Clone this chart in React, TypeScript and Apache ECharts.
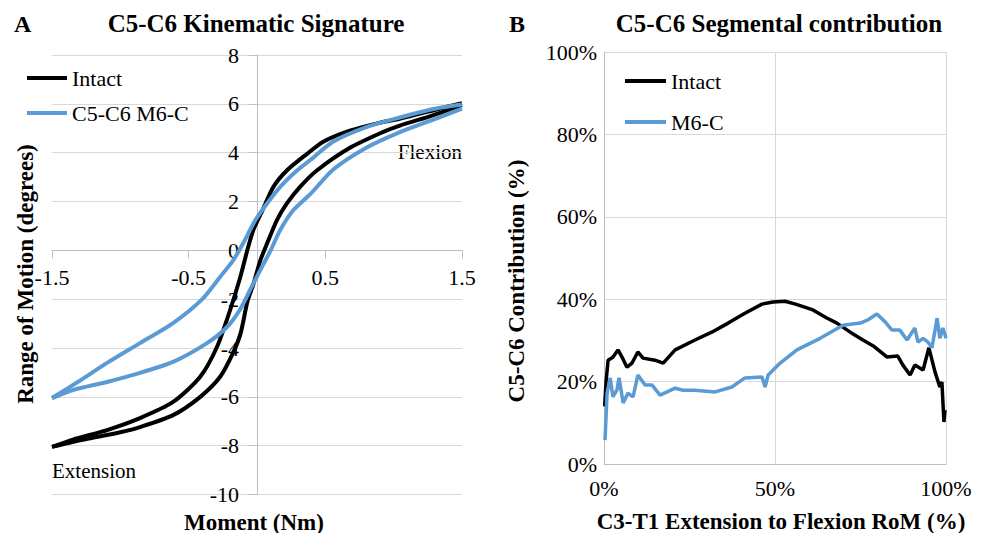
import React, { useEffect, useRef } from "react";
import * as echarts from "echarts";

// Panel A: C5-C6 kinematic signature (Moment Nm, Range of motion degrees)
const intactLoading: number[][] = [
  [-1.5, -8.05], [-1.35, -7.85], [-1.22, -7.7], [-1.0, -7.45], [-0.856, -7.24], [-0.614, -6.75],
  [-0.417, -6.01], [-0.271, -5.19], [-0.176, -4.21], [-0.12, -3.4], [-0.07, -2.1], [-0.027, -1.4],
  [0.025, -0.4], [0.075, 0.3], [0.146, 1.24], [0.22, 1.93], [0.315, 2.6], [0.44, 3.28], [0.68, 4.2],
  [0.92, 4.84], [1.05, 5.12], [1.27, 5.5], [1.5, 5.95],
];
const intactUnloading: number[][] = [
  [-1.5, -8.05], [-1.346, -7.75], [-1.097, -7.36], [-0.856, -6.87], [-0.614, -6.21], [-0.417, -5.19],
  [-0.293, -3.96], [-0.2, -2.5], [-0.122, -1.09], [-0.071, 0], [-0.027, 0.83], [0.04, 1.64], [0.12, 2.6],
  [0.22, 3.28], [0.366, 3.95], [0.485, 4.45], [0.68, 4.9], [0.88, 5.2], [1.05, 5.4], [1.3, 5.75],
  [1.5, 6.03],
];
const m6cLoading: number[][] = [
  [-1.5, -6.05], [-1.346, -5.72], [-1.097, -5.39], [-0.856, -5.02], [-0.614, -4.57], [-0.366, -3.8],
  [-0.219, -3.14], [-0.122, -2.4], [-0.049, -1.6], [0.025, -0.8], [0.1, 0], [0.17, 0.83], [0.265, 1.64],
  [0.39, 2.3], [0.556, 3.3], [0.8, 4.2], [1.05, 4.85], [1.266, 5.3], [1.5, 5.8],
];
const m6cUnloading: number[][] = [
  [-1.5, -6.05], [-1.3, -5.35], [-1.097, -4.61], [-0.856, -3.8], [-0.614, -2.98], [-0.4, -2.0],
  [-0.27, -1.09], [-0.173, -0.4], [-0.1, 0.3], [-0.012, 1.24], [0.075, 1.93], [0.17, 2.6], [0.295, 3.28],
  [0.39, 3.7], [0.556, 4.45], [0.8, 5.05], [1.05, 5.45], [1.3, 5.8], [1.5, 5.97],
];

// Panel B: C5-C6 segmental contribution (% of C3-T1 RoM)
const intactContribution: number[][] = [
  [0.2, 14], [0.6, 20], [1.2, 25.2], [2.6, 25.9], [4.1, 27.7], [5.3, 25.9], [6.7, 23.5], [8.2, 24.5],
  [9.9, 27.2], [11.4, 25.7], [14.9, 25.2], [17.3, 24.5], [20.8, 27.7], [26.6, 30.1], [31.5, 32.0],
  [36.3, 34.2], [41.2, 36.6], [46.2, 38.8], [49.4, 39.3], [52.9, 39.5], [56, 38.8], [61.1, 37.4],
  [65, 35.5], [68.1, 34.2], [72, 32], [75.7, 30.1], [79, 28.5], [82.7, 26.0], [85.9, 26.2], [87.4, 24.0],
  [89.5, 21.6], [90.9, 24.0], [93.3, 22.8], [95.0, 28.2], [96.8, 22.3], [98.2, 18.7], [98.8, 19.9],
  [99.4, 10.2], [99.7, 13.1],
];
const m6cContribution: number[][] = [
  [0.3, 5.8], [0.9, 17.2], [1.8, 20.9], [2.6, 16.3], [3.8, 18.0], [4.4, 20.9], [5.6, 14.8], [7.0, 17.2],
  [8.5, 16.3], [9.9, 21.6], [12.0, 19.2], [14.0, 19.2], [16.4, 16.7], [20.8, 18.4], [23.1, 17.9],
  [26.6, 17.9], [32.5, 17.5], [37.4, 18.7], [41.2, 20.9], [46.2, 21.1], [47.1, 18.7], [48.0, 21.6],
  [51.5, 24.5], [56.4, 27.7], [63.2, 30.5], [69.9, 33.7], [74.9, 34.2], [77.2, 35.0], [79.8, 36.4],
  [82.2, 34.5], [84.2, 32.5], [86.5, 32.5], [88.6, 30.1], [90.9, 33.0], [91.8, 29.6], [93.3, 30.5],
  [94.7, 29.6], [95.9, 28.2], [97.4, 35.4], [98.2, 30.5], [99.1, 33.0], [100, 30.5],
];

const legendA = ["Intact", "C5-C6 M6-C"];
const legendB = ["Intact", "M6-C"];

const FONT = "Liberation Serif, serif";
const BLACK = "#000000";
const BLUE = "#5b9bd5";
const GRID = "#d9d9d9";
const AXIS = "#bfbfbf";

export default function App() {
  const ref = useRef<HTMLDivElement>(null);
  useEffect(() => {
    if (!ref.current) return;
    const chart = echarts.init(ref.current, undefined, { renderer: "svg" });
    const tickLabel = { fontFamily: FONT, fontSize: 22, color: "#000" };
    const txt = (text: string, x: number, y: number, size: number, bold: boolean, align = "center", rot = 0) => ({
      type: "text",
      x,
      y,
      rotation: rot,
      style: {
        text,
        fontFamily: FONT,
        fontSize: size,
        fontWeight: bold ? "bold" : "normal",
        fill: "#000",
        align,
        verticalAlign: "middle",
      },
    });
    // grid A geometry: left 52 .. 462, top 55 .. 494.5
    const aTop = 55;
    const aBottom = 494.5;
    const aLeft = 52;
    const aRight = 462;
    const yZeroOffset = aBottom - (aTop + ((aBottom - aTop) * 8) / 18);
    const xZeroOffset = ((aRight - aLeft) * 1.5) / 3;
    const branch = (name: string, data: number[][], color: string) => ({
      name,
      type: "line",
      xAxisIndex: 0,
      yAxisIndex: 0,
      data,
      showSymbol: false,
      smooth: 0.25,
      color,
      lineStyle: { color, width: 4 },
    });
    chart.setOption({
      animation: false,
      backgroundColor: "#ffffff",
      grid: [
        { left: aLeft, right: 987 - aRight, top: aTop, bottom: 533 - aBottom },
        { left: 604, right: 41, top: 52, bottom: 69 },
      ],
      xAxis: [
        {
          gridIndex: 0,
          type: "value",
          position: "bottom",
          offset: -yZeroOffset,
          min: -1.5,
          max: 1.5,
          interval: 1,
          axisLine: { onZero: false, lineStyle: { color: AXIS, width: 1 } },
          axisTick: { show: true, length: 8, lineStyle: { color: AXIS } },
          axisLabel: { ...tickLabel, margin: 16, formatter: (v: number) => String(Math.round(v * 10) / 10) },
          splitLine: { show: false },
        },
        {
          gridIndex: 1,
          type: "value",
          min: 0,
          max: 100,
          interval: 50,
          axisLine: { lineStyle: { color: AXIS, width: 1 } },
          axisTick: { show: false },
          axisLabel: { ...tickLabel, margin: 13, formatter: "{value}%" },
          splitLine: { show: true, lineStyle: { color: GRID, width: 1 } },
        },
      ],
      yAxis: [
        {
          gridIndex: 0,
          type: "value",
          position: "left",
          offset: -xZeroOffset,
          min: -10,
          max: 8,
          interval: 2,
          axisLine: { show: true, onZero: false, lineStyle: { color: AXIS, width: 1 } },
          axisTick: { show: true, length: 8, lineStyle: { color: AXIS } },
          axisLabel: { ...tickLabel, margin: 18 },
          splitLine: { show: true, lineStyle: { color: GRID, width: 1 } },
        },
        {
          gridIndex: 1,
          type: "value",
          min: 0,
          max: 100,
          interval: 20,
          axisLine: { show: true, lineStyle: { color: AXIS, width: 1 } },
          axisTick: { show: false },
          axisLabel: { ...tickLabel, margin: 7, formatter: "{value}%" },
          splitLine: { show: true, lineStyle: { color: GRID, width: 1 } },
        },
      ],
      legend: [
        {
          data: legendA,
          orient: "vertical",
          left: 27,
          top: 67,
          padding: 0,
          itemGap: 13,
          itemWidth: 40,
          itemHeight: 4,
          icon: "rect",
          textStyle: { fontFamily: FONT, fontSize: 22, color: "#000", lineHeight: 22 },
        },
        {
          data: legendB,
          orient: "vertical",
          left: 625,
          top: 70,
          padding: 0,
          itemGap: 19,
          itemWidth: 41,
          itemHeight: 4,
          icon: "rect",
          textStyle: { fontFamily: FONT, fontSize: 22, color: "#000", lineHeight: 22 },
        },
      ],
      series: [
        branch(legendA[0], intactLoading, BLACK),
        branch(legendA[0], intactUnloading, BLACK),
        branch(legendA[1], m6cLoading, BLUE),
        branch(legendA[1], m6cUnloading, BLUE),
        {
          name: legendB[0],
          type: "line",
          xAxisIndex: 1,
          yAxisIndex: 1,
          data: intactContribution,
          showSymbol: false,
          color: BLACK,
          lineStyle: { color: BLACK, width: 3.5 },
        },
        {
          name: legendB[1],
          type: "line",
          xAxisIndex: 1,
          yAxisIndex: 1,
          data: m6cContribution,
          showSymbol: false,
          color: BLUE,
          lineStyle: { color: BLUE, width: 3.5 },
        },
      ],
      graphic: [
        txt("A", 14, 24, 24, true, "left"),
        txt("C5-C6 Kinematic Signature", 256, 23, 25, true),
        txt("B", 509, 24, 24, true, "left"),
        txt("C5-C6 Segmental contribution", 779, 23, 25, true),
        txt("Range of Motion (degrees)", 25, 274, 23, true, "center", Math.PI / 2),
        txt("Moment (Nm)", 254, 522, 23, true),
        txt("C5-C6 Contribution (%)", 516, 281, 23, true, "center", Math.PI / 2),
        txt("C3-T1 Extension to Flexion RoM (%)", 781, 521, 23, true),
        txt("Flexion", 462, 152, 21, false, "right"),
        txt("Extension", 52, 471, 21, false, "left"),
      ],
    });
    return () => chart.dispose();
  }, []);
  return <div ref={ref} style={{ position: "fixed", left: 0, top: 0, width: 987, height: 533 }} />;
}
